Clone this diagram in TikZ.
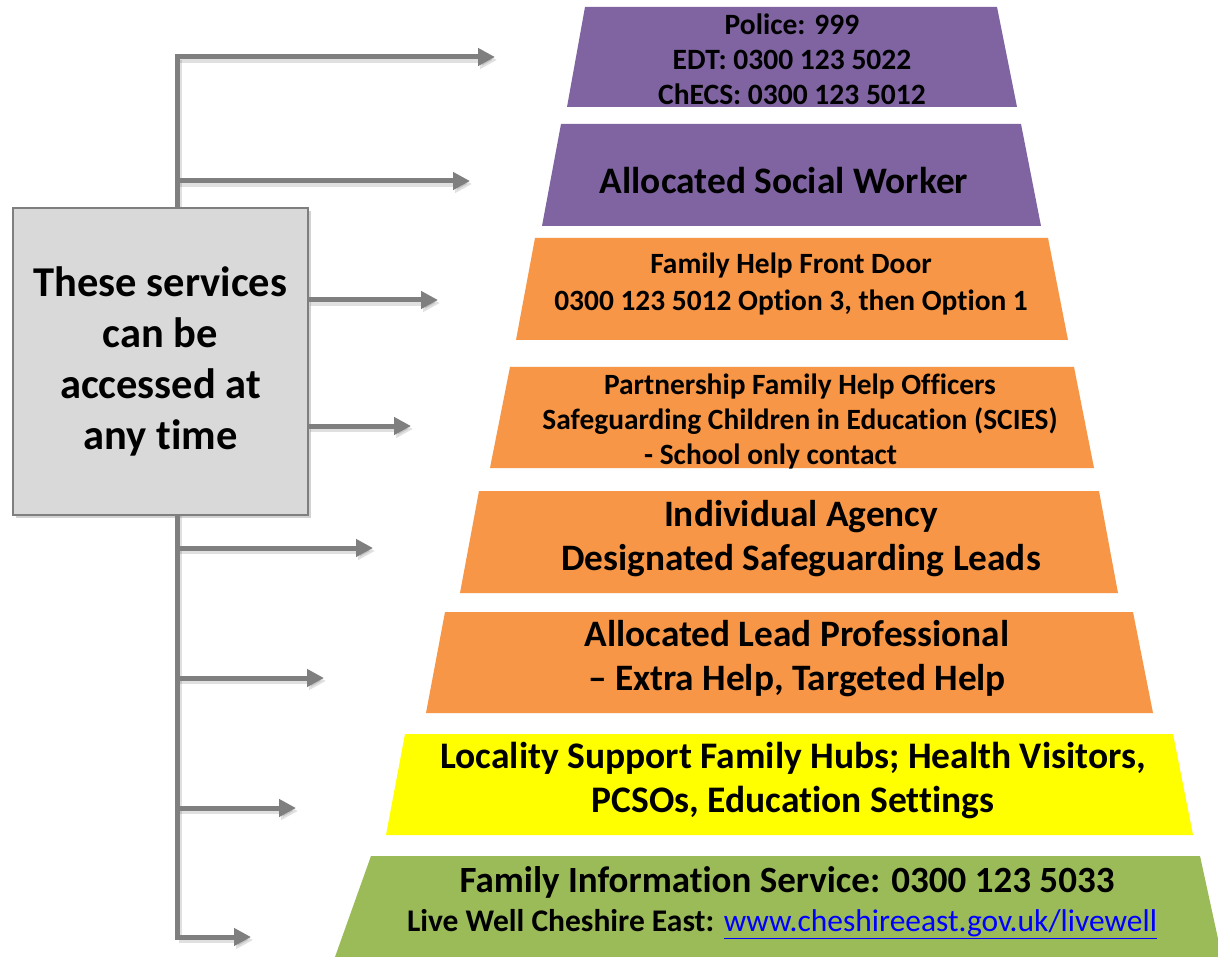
\documentclass[tikz,border=0pt]{standalone}
\usepackage{fontspec}
\setmainfont{Carlito}[Ligatures=NoCommon]
\usetikzlibrary{arrows.meta,shadows}
\definecolor{purp}{HTML}{8064A2}
\definecolor{orng}{HTML}{F79646}
\definecolor{yell}{HTML}{FFFF00}
\definecolor{grn}{HTML}{9BBB59}
\definecolor{boxgray}{HTML}{D9D9D9}
\definecolor{linegray}{HTML}{7F7F7F}
\definecolor{linkblue}{HTML}{0000FF}
\tikzset{
  tiertext/.style={align=center, font=\bfseries, text=black, inner sep=0pt},
  link/.style={line width=5pt, draw=linegray},
  shadowlink/.style={line width=6pt, draw=black, opacity=0.12},
  arr/.style={link, -{Triangle[length=17pt,width=17pt]}},
  shadowarr/.style={shadowlink, -{Triangle[length=17pt,width=17pt]}},
  mainbox/.style={draw=linegray, line width=1.5pt, fill=boxgray, minimum width=295pt, minimum height=307pt,
     drop shadow={shadow xshift=3pt, shadow yshift=-3pt, opacity=0.35}, align=center, font=\bfseries\fontsize{42.5}{51}\selectfont, inner sep=0pt}
}
\begin{document}
\begin{tikzpicture}[x=1pt,y=-1pt]
\useasboundingbox (0,0) rectangle (1218,957);
\fill[white] (0,0) rectangle (1218,957);
% tiers
\fill[purp] (585,7) -- (997,7) -- (1017,107) -- (567,107) -- cycle;
\fill[purp] (561,124) -- (1021,124) -- (1041,226) -- (542,226) -- cycle;
\fill[orng] (535,238) -- (1048,238) -- (1068,340) -- (516,340) -- cycle;
\fill[orng] (510,367) -- (1074,367) -- (1094,468) -- (490,468) -- cycle;
\fill[orng] (479,491) -- (1099,491) -- (1118,593) -- (460,593) -- cycle;
\fill[orng] (445,612) -- (1133,612) -- (1153,713) -- (426,713) -- cycle;
\fill[yell] (405,734) -- (1173,734) -- (1193,835) -- (386,835) -- cycle;
\fill[grn] (371,856) -- (1200,856) -- (1222,957) -- (335,957) -- cycle;
% texts
\node[tiertext, font=\bfseries\fontsize{29.5}{35}\selectfont] (t1) at (792,59) {Police: 999\\EDT: 0300 123 5022\\ChECS: 0300 123 5012};
\node[tiertext, font=\bfseries\fontsize{37.4}{44}\selectfont] (t2) at (784,181) {Allocated Social Worker};
\node[tiertext, font=\bfseries\fontsize{29.4}{37}\selectfont] (t3) at (791,284) {Family Help Front Door\\0300 123 5012 Option 3, then Option 1};
\node[tiertext, font=\bfseries\fontsize{29.4}{35}\selectfont] (t4) at (800,421) {Partnership Family Help Officers\\Safeguarding Children in Education (SCIES)\\- School only contact\hspace*{2em}};
\node[tiertext, font=\bfseries\fontsize{37.3}{44}\selectfont] (t5) at (801,539) {Individual Agency\\Designated Safeguarding Leads};
\node[tiertext, font=\bfseries\fontsize{37.3}{44}\selectfont] (t6) at (797,659) {Allocated Lead Professional\\– Extra Help, Targeted Help};
\node[tiertext, font=\bfseries\fontsize{37.5}{44}\selectfont] (t7) at (793,781) {Locality Support Family Hubs; Health Visitors,\\PCSOs, Education Settings};
\node[tiertext, font=\bfseries\fontsize{37}{40}\selectfont] (t8a) at (787,882) {Family Information Service: 0300 123 5033};
\node[tiertext, font=\bfseries\fontsize{31.5}{34}\selectfont] (t8b) at (782,924) {Live Well Cheshire East: \textcolor{linkblue}{\mdseries\underline{www.cheshireeast.gov.uk/livewell}}};
% connectors
\coordinate (top) at (177,57);
\coordinate (bot) at (177,937);
\coordinate (e1) at (495,57);
\coordinate (b2) at (177,181);
\coordinate (e2) at (470,181);
\coordinate (e3) at (438,300);
\coordinate (e4) at (411,426);
\coordinate (b5) at (177,548);
\coordinate (e5) at (373,548);
\coordinate (b6) at (177,678);
\coordinate (e6) at (324,678);
\coordinate (b7) at (177,808);
\coordinate (e7) at (296,808);
\coordinate (e8) at (251,937);
% shadows
\begin{scope}[transform canvas={shift={(2pt,-3pt)}}]
\draw[shadowlink] (top) -- (bot);
\draw[shadowarr] (top) -- (e1);
\draw[shadowarr] (b2) -- (e2);
\draw[shadowarr] (b5) -- (e5);
\draw[shadowarr] (b6) -- (e6);
\draw[shadowarr] (b7) -- (e7);
\draw[shadowarr] (bot) -- (e8);
\draw[shadowarr] (308,300) -- (e3);
\draw[shadowarr] (308,426) -- (e4);
\end{scope}
\draw[link, line cap=rect] (top) -- (bot);
\draw[arr] (top) -- (e1);
\draw[arr] (b2) -- (e2);
\draw[arr] (b5) -- (e5);
\draw[arr] (b6) -- (e6);
\draw[arr] (b7) -- (e7);
\draw[arr] (bot) -- (e8);
\node[mainbox] (box) at (160.5,361.5) {These services\\can be\\accessed at\\any time};
\draw[arr] (box.east |- e3) -- (e3);
\draw[arr] (box.east |- e4) -- (e4);
\end{tikzpicture}
\end{document}
